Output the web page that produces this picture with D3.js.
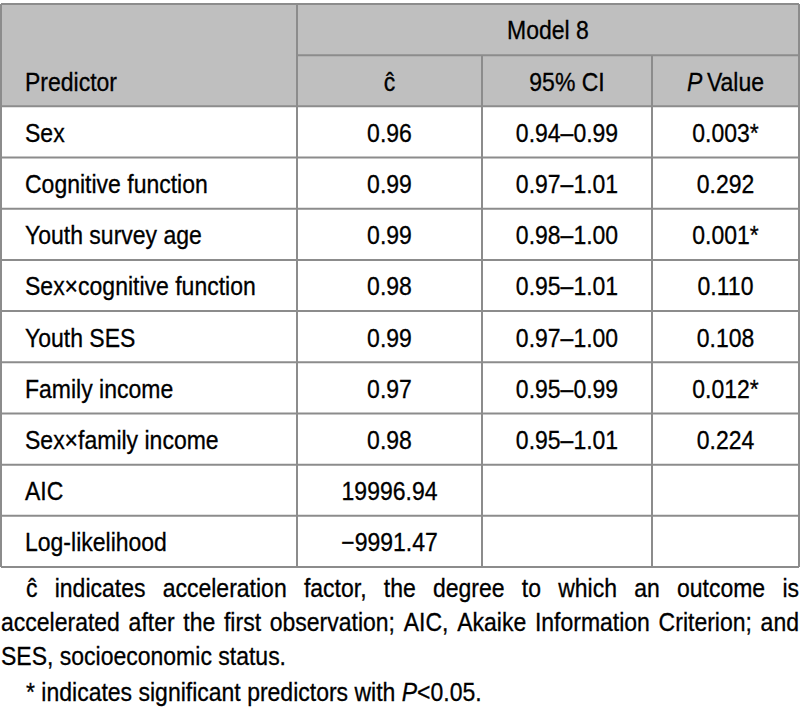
<!DOCTYPE html>
<html><head><meta charset="utf-8">
<script src="https://cdn.jsdelivr.net/npm/d3@7"></script>
<style>body{margin:0;background:#fff}</style>
</head><body>
<svg id="c" width="800" height="708"></svg>
<script>
const predictors = ["Sex","Cognitive function","Youth survey age","Sex\u00d7cognitive function","Youth SES","Family income","Sex\u00d7family income","AIC","Log-likelihood"];
const cHat = ["0.96","0.99","0.99","0.98","0.99","0.97","0.98","19996.94","\u22129991.47"];
const ci95 = ["0.94\u20130.99","0.97\u20131.01","0.98\u20131.00","0.95\u20131.01","0.97\u20131.00","0.95\u20130.99","0.95\u20131.01","",""];
const pValues = ["0.003*","0.292","0.001*","0.110","0.108","0.012*","0.224","",""];
const groupHeader = "Model 8";
const colHeaders = ["Predictor","\u0109","95% CI","Value"];
const footLines = [
 {text:"\u0109 indicates acceleration factor, the degree to which an outcome is", justify:true, indent:true},
 {text:"accelerated after the first observation; AIC, Akaike Information Criterion; and", justify:true, indent:false},
 {text:"SES, socioeconomic status.", justify:false, indent:false},
 {text:"* indicates significant predictors with |P|<0.05.", justify:false, indent:true}
];

(function(){
const FONT = "'Liberation Sans','Arial',sans-serif";
const SX = 0.92;
const svg = d3.select("#c");
const colX = [1, 297, 482, 652, 799];
const tableTop = 4, tableBottom = 567;
const nRows = 2 + predictors.length;
const y = d3.scaleLinear().domain([0, nRows]).range([tableTop, tableBottom]);
const fs = 25;
const grid = "#8c8c8c";

svg.append("rect").attr("x", colX[0]).attr("y", y(0)).attr("width", colX[4]-colX[0]).attr("height", y(2)-y(0)).attr("fill", "#bfbfbf");

const g = svg.append("g").attr("font-family", FONT).attr("font-size", fs).attr("fill", "#000").attr("stroke", "#000").attr("stroke-width", 0.3);
function txt(x, yy, s, anchor, parent){
  const p = (parent || g).append("g").attr("transform", `translate(${x},${yy}) scale(${SX},1)`);
  return p.append("text").attr("x", 0).attr("y", 0).attr("text-anchor", anchor).attr("dominant-baseline","central").text(s);
}
const mid = i => (y(i)+y(i+1))/2 + 1;
const cc = j => (colX[j]+colX[j+1])/2;

txt((colX[1]+colX[4])/2, mid(0), groupHeader, "middle");
txt(25, mid(1), colHeaders[0], "start");
txt(cc(1), mid(1), colHeaders[1], "middle");
txt(cc(2), mid(1), colHeaders[2], "middle");
const pv = txt(cc(3), mid(1), "", "middle");
pv.append("tspan").attr("font-style","italic").text("P");
pv.append("tspan").text("\u2009" + colHeaders[3]);

predictors.forEach((p,i) => {
  const r = i + 2;
  txt(25, mid(r), p, "start");
  txt(cc(1), mid(r), cHat[i], "middle");
  txt(cc(2), mid(r), ci95[i], "middle");
  txt(cc(3), mid(r), pValues[i], "middle");
});

const lines = svg.append("g").attr("stroke", grid).attr("stroke-width", 2).attr("fill","none");
for (let r = 0; r <= nRows; r++) {
  const x0 = (r === 1) ? colX[1] : colX[0];
  lines.append("line").attr("x1", x0).attr("x2", colX[4]).attr("y1", y(r)).attr("y2", y(r));
}
colX.forEach((cx, j) => {
  const y0 = (j === 2 || j === 3) ? y(1) : y(0);
  lines.append("line").attr("x1", cx).attr("x2", cx).attr("y1", y0).attr("y2", y(nRows));
});

const fg = svg.append("g").attr("font-family", FONT).attr("font-size", fs).attr("fill", "#000").attr("stroke", "#000").attr("stroke-width", 0.3);
const footY = [588, 622, 656, 692];
const left = 1, right = 799, indentX = 26;
footLines.forEach((ln, i) => {
  const x0 = ln.indent ? indentX : left;
  const parts = ln.text.split(" ");
  if (ln.justify) {
    const widths = parts.map(w => {
      const t = fg.append("text").text(w);
      const wd = t.node().getComputedTextLength() * SX; t.remove(); return wd;
    });
    const total = d3.sum(widths);
    const gap = (right - x0 - total) / (parts.length - 1);
    let x = x0;
    parts.forEach((w, k) => {
      txt(x, footY[i], w, "start", fg);
      x += widths[k] + gap;
    });
  } else {
    const t = txt(x0, footY[i], "", "start", fg);
    ln.text.split("|").forEach((seg, k) => {
      t.append("tspan").attr("font-style", k % 2 ? "italic" : "normal").text(seg);
    });
  }
});
})();
</script>
</body></html>
